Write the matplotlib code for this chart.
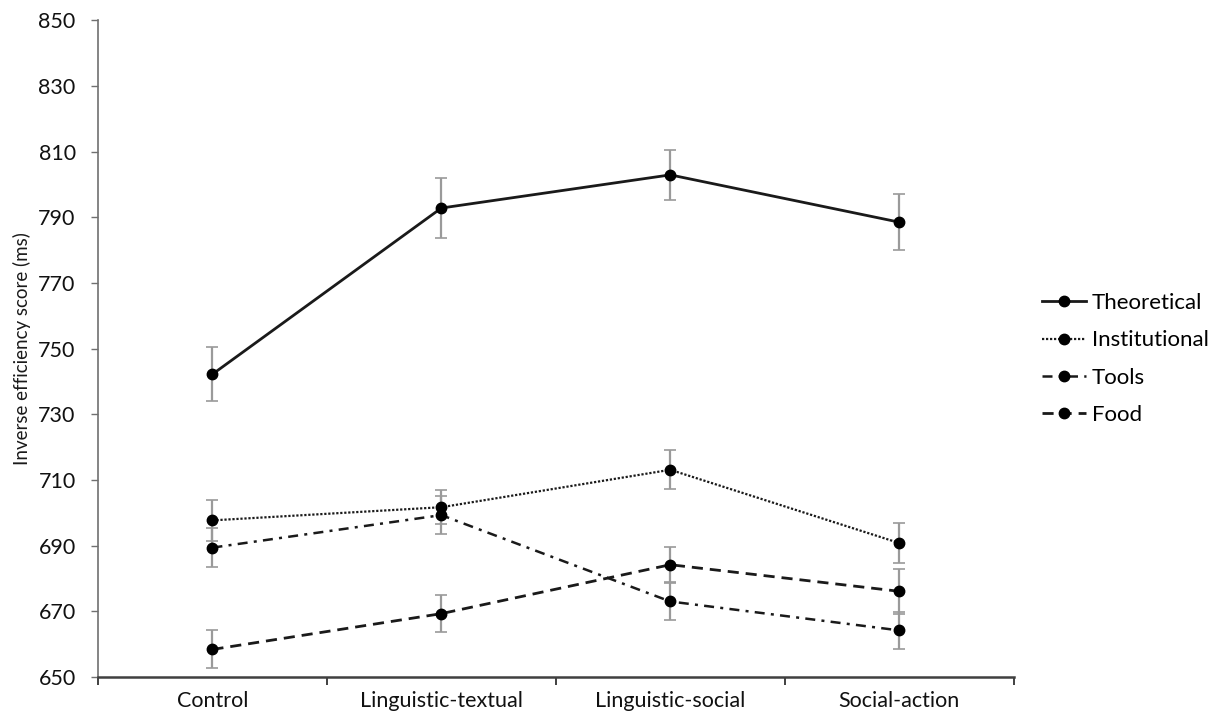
import numpy as np
import matplotlib
matplotlib.use("Agg")
import matplotlib.pyplot as plt

# condition means and standard errors per stimulus category
conditions = ["Control", "Linguistic-textual", "Linguistic-social", "Social-action"]
series_names = ["Theoretical", "Institutional", "Tools", "Food"]

theoretical = [742.2, 792.8, 802.9, 788.5]
theoretical_err = [8.2, 9.2, 7.7, 8.6]
institutional = [697.7, 701.7, 713.1, 690.8]
institutional_err = [6.2, 5.2, 6.0, 6.0]
tools = [689.4, 699.3, 673.0, 664.2]
tools_err = [6.0, 5.8, 5.6, 5.7]
food = [658.4, 669.3, 684.2, 676.1]
food_err = [5.8, 5.7, 5.3, 6.8]

y_ticks = list(range(650, 851, 20))

plt.rcParams["font.family"] = ["Lato", "DejaVu Sans"]

fig = plt.figure(figsize=(12.14, 7.21), dpi=100)
ax = fig.add_axes([0.0807, 0.061, 0.7543, 0.911])

x = np.arange(len(conditions))
styles = {
    "Theoretical": dict(ls="-", lw=2.0),
    "Institutional": dict(ls=(0, (1, 0.8)), lw=1.6),
    "Tools": dict(ls=(0, (4, 2.5, 1.2, 2.5)), lw=1.8),
    "Food": dict(ls=(0, (4, 2.5)), lw=2.0),
}
values = [theoretical, institutional, tools, food]
errors = [theoretical_err, institutional_err, tools_err, food_err]

handles = []
for name, vals, errs in zip(series_names, values, errors):
    ax.errorbar(x, vals, yerr=errs, fmt="none", ecolor="#9a9a9a",
                elinewidth=1.6, capsize=4, capthick=1.2, zorder=2)
    h, = ax.plot(x, vals, color="#1a1a1a", marker="o", markersize=7.5,
                 markerfacecolor="black", markeredgecolor="black",
                 label=name, zorder=3, **styles[name])
    handles.append(h)

ax.set_xlim(-0.5, 3.5)
ax.set_ylim(650, 850)
ax.set_yticks(y_ticks)
ax.tick_params(axis="y", labelsize=15.5, length=5, width=1.0,
               color="#707070", pad=11, labelcolor="#111111")

# category labels sit between boundary ticks
ax.set_xticks(np.arange(-0.5, 4.0, 1.0))
ax.set_xticklabels([])
ax.tick_params(axis="x", which="major", length=6, width=1.4, color="#404040")
ax.set_xticks(x, minor=True)
ax.set_xticklabels(conditions, minor=True)
ax.tick_params(axis="x", which="minor", length=0, labelsize=15.5,
               pad=10, labelcolor="#111111")

for side in ["top", "right"]:
    ax.spines[side].set_visible(False)
ax.spines["left"].set_color("#707070")
ax.spines["left"].set_linewidth(1.2)
ax.spines["bottom"].set_color("#404040")
ax.spines["bottom"].set_linewidth(1.8)

ax.set_ylabel("Inverse efficiency score (ms)", fontsize=13.5, color="#1a1a1a")
ax.yaxis.set_label_coords(-0.073, 0.5)

fig.legend(handles=handles, loc="upper left",
           bbox_to_anchor=(1042 / 1214, 1 - 293 / 721), frameon=False,
           borderpad=0, borderaxespad=0,
           fontsize=16, handlelength=2.0, handletextpad=0.25,
           labelspacing=0.78, numpoints=1)

fig.savefig("out.png", dpi=100, facecolor="white")
